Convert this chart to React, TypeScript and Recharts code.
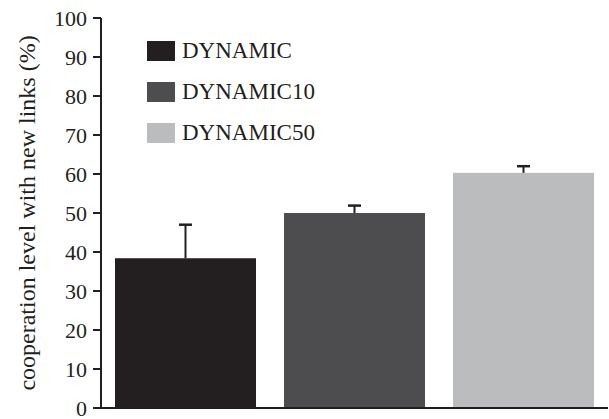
import { BarChart, Bar, XAxis, YAxis, Cell } from 'recharts'

const categories = ['DYNAMIC', 'DYNAMIC10', 'DYNAMIC50']
const means = [38.4, 50.0, 60.3]
const errors = [8.6, 1.9, 1.7]
const barColors = ['#231f20', '#4d4d4f', '#bbbcbe']
const yTicks = [0, 10, 20, 30, 40, 50, 60, 70, 80, 90, 100]

const ink = '#231f20'
const serif = '"Liberation Serif", "Times New Roman", serif'

const data = categories.map((name, i) => ({ name, value: means[i], err: errors[i] }))

// rect plus an upward-only error bar (no lower whisker, like the original)
const BarWithError = (props: any) => {
  const { x, y, width, height, fill, payload } = props
  const perUnit = height / payload.value
  const top = y - payload.err * perUnit
  const cx = x + width / 2
  return (
    <g>
      <rect x={x} y={y} width={width} height={height} fill={fill} />
      <line x1={cx} y1={y} x2={cx} y2={top} stroke={ink} strokeWidth={2} />
      <line x1={cx - 6.5} y1={top} x2={cx + 6.5} y2={top} stroke={ink} strokeWidth={2.5} />
    </g>
  )
}

// legend sits inside the plot, top-left, so it's an overlay rather than a recharts Legend
const LegendBox = () => (
  <div style={{ position: 'absolute', left: 147, top: 30.5, fontFamily: serif, fontSize: 23, color: ink }}>
    {categories.map((c, i) => (
      <div key={c} style={{ display: 'flex', alignItems: 'center', height: 41 }}>
        <span style={{ display: 'inline-block', width: 28, height: 20, background: barColors[i], marginRight: 7 }} />
        <span style={{ lineHeight: '20px' }}>{c}</span>
      </div>
    ))}
  </div>
)

export default function App() {
  return (
    <div style={{ position: 'absolute', left: 0, top: 0, width: 609, height: 419, background: '#fff' }}>
      <BarChart
        width={609}
        height={419}
        data={data}
        margin={{ top: 18, right: 1, left: 0, bottom: 10 }}
        barCategoryGap={14}
      >
        <XAxis
          dataKey="name"
          tick={false}
          tickLine={false}
          height={1}
          axisLine={{ stroke: ink, strokeWidth: 2 }}
        />
        <YAxis
          width={101}
          domain={[0, 100]}
          ticks={yTicks}
          interval={0}
          tickSize={8}
          tickMargin={6}
          axisLine={{ stroke: ink, strokeWidth: 2 }}
          tickLine={{ stroke: ink, strokeWidth: 2 }}
          tick={{ fill: ink, fontSize: 22, fontFamily: serif }}
          label={{
            value: 'cooperation level with new links (%)',
            angle: -90,
            position: 'insideLeft',
            offset: 26,
            style: { textAnchor: 'middle', fill: ink, fontSize: 24, fontFamily: serif }
          }}
        />
        <Bar dataKey="value" shape={<BarWithError />} isAnimationActive={false}>
          {data.map((d, i) => (
            <Cell key={d.name} fill={barColors[i]} />
          ))}
        </Bar>
      </BarChart>
      <LegendBox />
    </div>
  )
}
